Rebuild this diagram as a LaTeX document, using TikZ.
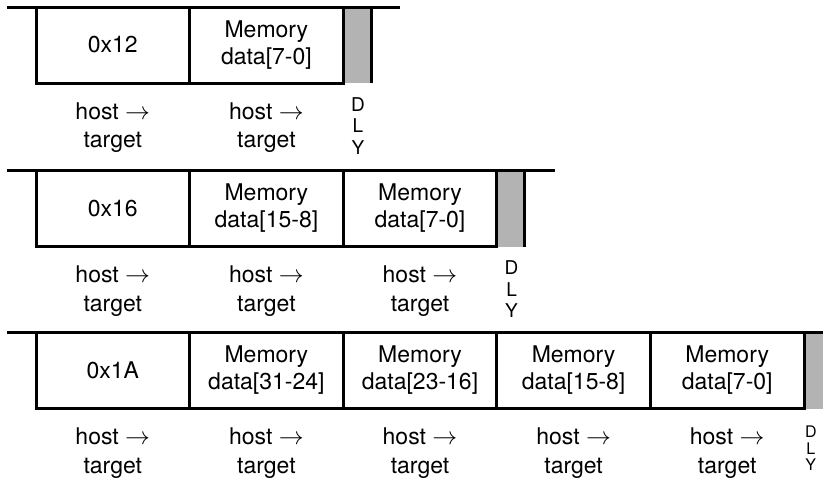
\documentclass[tikz,border=0pt]{standalone}
\usepackage{fontspec}
\setmainfont{TeX Gyre Heros}
\usetikzlibrary{positioning}
\definecolor{dlygray}{RGB}{179,179,179}

\begin{document}
\begin{tikzpicture}[x=1pt,y=-1pt,line width=3pt,node distance=0pt,
  field/.style={draw,minimum width=153.6pt,minimum height=76pt,inner sep=0pt,outer sep=0pt,align=center,font=\fontsize{23}{27}\selectfont},
  dly/.style={fill=dlygray,minimum width=26.5pt,minimum height=76pt,inner sep=0pt,outer sep=0pt},
  dir/.style={align=center,inner sep=0pt,font=\fontsize{23}{28.5}\selectfont},
  dlytext/.style={align=center,inner sep=0pt,font=\fontsize{19}{21.5}\selectfont}]
\clip (0,0) rectangle (823,480);

% 1 byte
\coordinate (r1) at (7,7);
\node (a1) [field,anchor=north west] at (36,7) {0x12};
\node (a2) [field,right=of a1] {Memory\\data[7-0]};
\node (g1) [dly,right=1.5pt of a2] {};
\coordinate [right=29pt of g1.north east] (e1);
\draw (r1) -- (e1);
\draw (g1.north east) -- (g1.south east);
\node (ha1) [dir,below=18pt of a1] {host $\rightarrow$\\target};
\node (ha2) [dir,below=18pt of a2] {host $\rightarrow$\\target};
\node (y1) [dlytext,below=13pt of g1] {D\\L\\Y};

% 2 bytes
\coordinate (r2) at (7,170.5);
\node (b1) [field,anchor=north west] at (36,170.5) {0x16};
\node (b2) [field,right=of b1] {Memory\\data[15-8]};
\node (b3) [field,right=of b2] {Memory\\data[7-0]};
\node (g2) [dly,right=1.5pt of b3] {};
\coordinate [right=30pt of g2.north east] (e2);
\draw (r2) -- (e2);
\draw (g2.north east) -- (g2.south east);
\node (hb1) [dir,below=18pt of b1] {host $\rightarrow$\\target};
\node (hb2) [dir,below=18pt of b2] {host $\rightarrow$\\target};
\node (hb3) [dir,below=18pt of b3] {host $\rightarrow$\\target};
\node (y2) [dlytext,below=13pt of g2] {D\\L\\Y};

% 4 bytes
\coordinate (r3) at (7,332.5);
\node (c1) [field,anchor=north west] at (36,332.5) {0x1A};
\node (c2) [field,right=of c1] {Memory\\data[31-24]};
\node (c3) [field,right=of c2] {Memory\\data[23-16]};
\node (c4) [field,right=of c3] {Memory\\data[15-8]};
\node (c5) [field,right=of c4] {Memory\\data[7-0]};
\node (g3) [dly,right=1.5pt of c5] {};
\coordinate [right=30pt of g3.north east] (e3);
\draw (r3) -- (e3);
\draw (g3.north east) -- (g3.south east);
\node (hc1) [dir,below=18pt of c1] {host $\rightarrow$\\target};
\node (hc2) [dir,below=18pt of c2] {host $\rightarrow$\\target};
\node (hc3) [dir,below=18pt of c3] {host $\rightarrow$\\target};
\node (hc4) [dir,below=18pt of c4] {host $\rightarrow$\\target};
\node (hc5) [dir,below=18pt of c5] {host $\rightarrow$\\target};
\node (y3) [dlytext,font=\fontsize{16}{16.5}\selectfont,below right=16pt and -2pt of g3.south west] {D\\L\\Y};
\end{tikzpicture}
\end{document}
